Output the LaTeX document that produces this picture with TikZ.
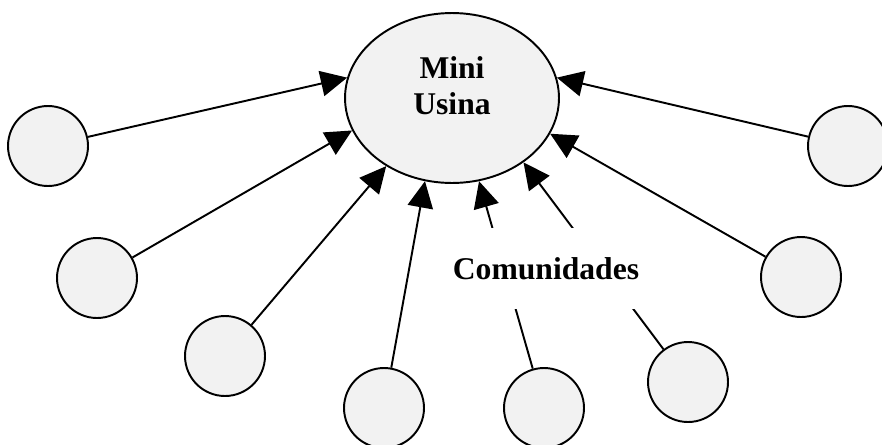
\documentclass[tikz,border=0pt]{standalone}
\usepackage{fontspec}
\setmainfont{Liberation Serif}
\usetikzlibrary{arrows.meta}
\usetikzlibrary{shapes.geometric}

\definecolor{cinza}{RGB}{242,242,242}

\begin{document}
\begin{tikzpicture}[x=0.02cm, y=-0.02cm, line width=1.1pt,
    >={Triangle[length=15pt,width=14.5pt]},
    comunidade/.style={circle, draw, fill=cinza, minimum size=1.6cm, inner sep=0pt},
    usina/.style={ellipse, draw, fill=cinza, minimum width=4.28cm, minimum height=3.4cm, inner sep=0pt},
    rotulo/.style={font=\fontsize{18}{20.5}\selectfont\bfseries, align=center}]
    \useasboundingbox (0,0) rectangle (882,444);

    \node[usina] (usina) at (452,98) {};
    \node[rotulo] (nome) at (452,86) {Mini\\Usina};

    \node[comunidade] (c1) at (48,146) {};
    \node[comunidade] (c2) at (97,278) {};
    \node[comunidade] (c3) at (225,356) {};
    \node[comunidade] (c4) at (384,408) {};
    \node[comunidade] (c5) at (544,408) {};
    \node[comunidade] (c6) at (688,382) {};
    \node[comunidade] (c7) at (801,277) {};
    \node[comunidade] (c8) at (848,146) {};

    \path[->] (c1) edge (usina.169);
    \path[->] (c2) edge (usina.198);
    \path[->] (c3) edge (usina.226);
    \path[->] (c4) edge (usina.252);
    \path[->] (c5) edge (usina.288);
    \path[->] (c6) edge (usina.318);
    \path[->] (c7) edge (usina.340);
    \path[->] (c8) edge (usina.11);

    \node[rotulo, fill=white, minimum height=1.62cm, inner xsep=1pt] (comunidades) at (546,268.5) {Comunidades};
  \end{tikzpicture}
\end{document}
